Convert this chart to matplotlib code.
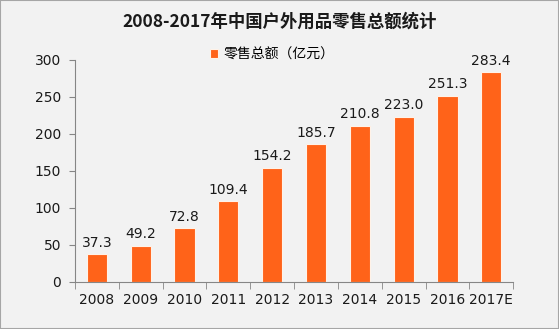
import matplotlib
matplotlib.use('Agg')
import matplotlib.pyplot as plt
import numpy as np

plt.rcParams['font.family'] = ['Noto Sans CJK SC', 'DejaVu Sans']

years = ['2008', '2009', '2010', '2011', '2012', '2013', '2014', '2015', '2016', '2017E']
sales = [37.3, 49.2, 72.8, 109.4, 154.2, 185.7, 210.8, 223.0, 251.3, 283.4]

fig = plt.figure(figsize=(5.59, 3.29), dpi=100, facecolor='#f2f2f2')
fig.patches.append(plt.Rectangle((0, 0), 1, 1, transform=fig.transFigure,
                                 fill=False, edgecolor='#a6a6a6', lw=1.5))
ax = fig.add_axes([0.134, 0.143, 0.784, 0.675])
ax.set_facecolor('#f2f2f2')

x = np.arange(len(years))
bars = ax.bar(x, sales, width=0.46, color='#ff6319', edgecolor='#fff2e8',
              linewidth=0.8, label='零售总额（亿元）')
for xi, v in zip(x, sales):
    ax.text(xi, v + 6, f'{v:.1f}', ha='center', va='bottom', fontsize=10,
            family='DejaVu Sans', color='#1a1a1a')

ax.set_xlim(-0.5, len(years) - 0.5)
ax.set_ylim(0, 300)
ax.set_yticks(range(0, 301, 50))
ax.set_xticks(x)
ax.set_xticklabels(years)
ax.set_xticks(np.arange(-0.5, len(years), 1), minor=True)
ax.tick_params(axis='x', which='major', length=0, pad=8)
ax.tick_params(axis='x', which='minor', length=5, color='#868686')
ax.tick_params(axis='y', length=4, color='#868686', pad=6)
for lbl in ax.get_xticklabels() + ax.get_yticklabels():
    lbl.set_fontsize(10)
    lbl.set_family('DejaVu Sans')
    lbl.set_color('#1a1a1a')

for side in ('top', 'right'):
    ax.spines[side].set_visible(False)
for side in ('left', 'bottom'):
    ax.spines[side].set_color('#868686')

fig.text(0.5, 0.935, '2008-2017年中国户外用品零售总额统计', ha='center', va='center',
         fontsize=12.5, fontweight='bold', color='#1a1a1a')
fig.legend(handles=[bars], loc='center left', bbox_to_anchor=(0.375, 0.835),
           frameon=False, fontsize=10, handlelength=0.6, handleheight=0.6,
           handletextpad=0.4, borderpad=0, borderaxespad=0)

fig.savefig('out.png', dpi=100, facecolor=fig.get_facecolor())
